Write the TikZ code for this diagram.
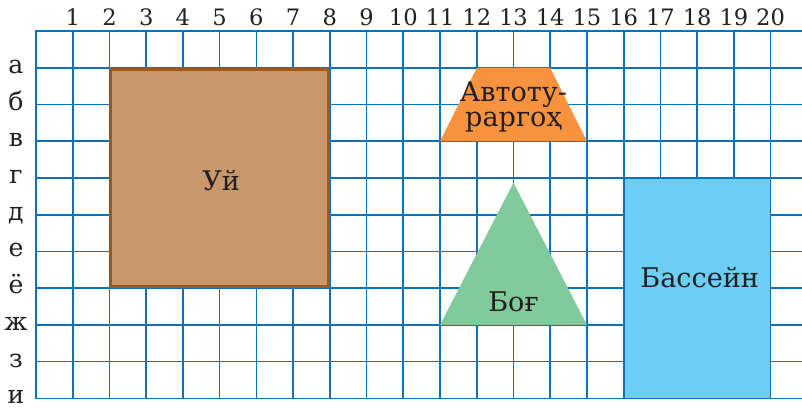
\documentclass[tikz,border=0pt]{standalone}
\usepackage{fontspec}
\setmainfont{DejaVu Serif}

\definecolor{gridBlue}{HTML}{0B72B9}
\definecolor{houseFill}{HTML}{C8976C}
\definecolor{houseEdge}{HTML}{9C5A1E}
\definecolor{stationOrange}{HTML}{F7923E}
\definecolor{gardenGreen}{HTML}{80CA9C}
\definecolor{poolBlue}{HTML}{6DCEF5}
\definecolor{inkDark}{HTML}{231F20}

\begin{document}
\begin{tikzpicture}[
        gridLine/.style={
            draw=gridBlue, line width=1.3pt, line cap=rect
        },
        colLabel/.style={
            anchor=base, inner sep=0pt, text=inkDark,
            font=\fontsize{17.5}{17.5}\selectfont
        },
        rowLabel/.style={
            anchor=base, inner sep=0pt, text=inkDark,
            font=\fontsize{19.5}{19.5}\selectfont
        },
        placeLabel/.style={
            inner sep=0pt, text=inkDark, align=center,
            font=\fontsize{21}{19.4}\selectfont
        }
    ]
        \useasboundingbox (-0.980,0.845) rectangle (20.855,-10.263);

        % Grid
        \foreach \c in {0,...,20}
            \draw [gridLine] (\c,0) -- (\c,-10);
        \foreach \r in {0,...,10}
            \draw [gridLine] (0,-\r) -- (20.9,-\r);

        % Column and row labels
        \foreach \c in {1,...,20}
            \node (col\c) [colLabel] at (\c,0.14) {\c};
        \foreach \l [count=\r] in {а,б,в,г,д,е,ё,ж,з,и}
            \node (row\r) [rowLabel] at (-0.545,-\r-0.15) {\l};

        % Shapes
        \filldraw [fill=houseFill, draw=houseEdge, line width=2.2pt]
            (2.04,-1.04) rectangle (7.96,-6.96);
        \fill [stationOrange] (11,-3) -- (12,-1) -- (14,-1) -- (15,-3) -- cycle;
        \fill [gardenGreen] (11,-8) -- (13,-4.13) -- (15,-8) -- cycle;
        \filldraw [fill=poolBlue, draw=gridBlue, line width=1.3pt]
            (16,-4) rectangle (20,-10);

        % Place names
        \node (house) [placeLabel] at (5.04,-4.08) {Уй};
        \node (station) [placeLabel] at (13,-2.07) {Автоту-\\раргоҳ};
        \node (garden) [placeLabel] at (13,-7.37) {Боғ};
        \node (pool) [placeLabel] at (18.07,-6.71) {Бассейн};
    \end{tikzpicture}
\end{document}
